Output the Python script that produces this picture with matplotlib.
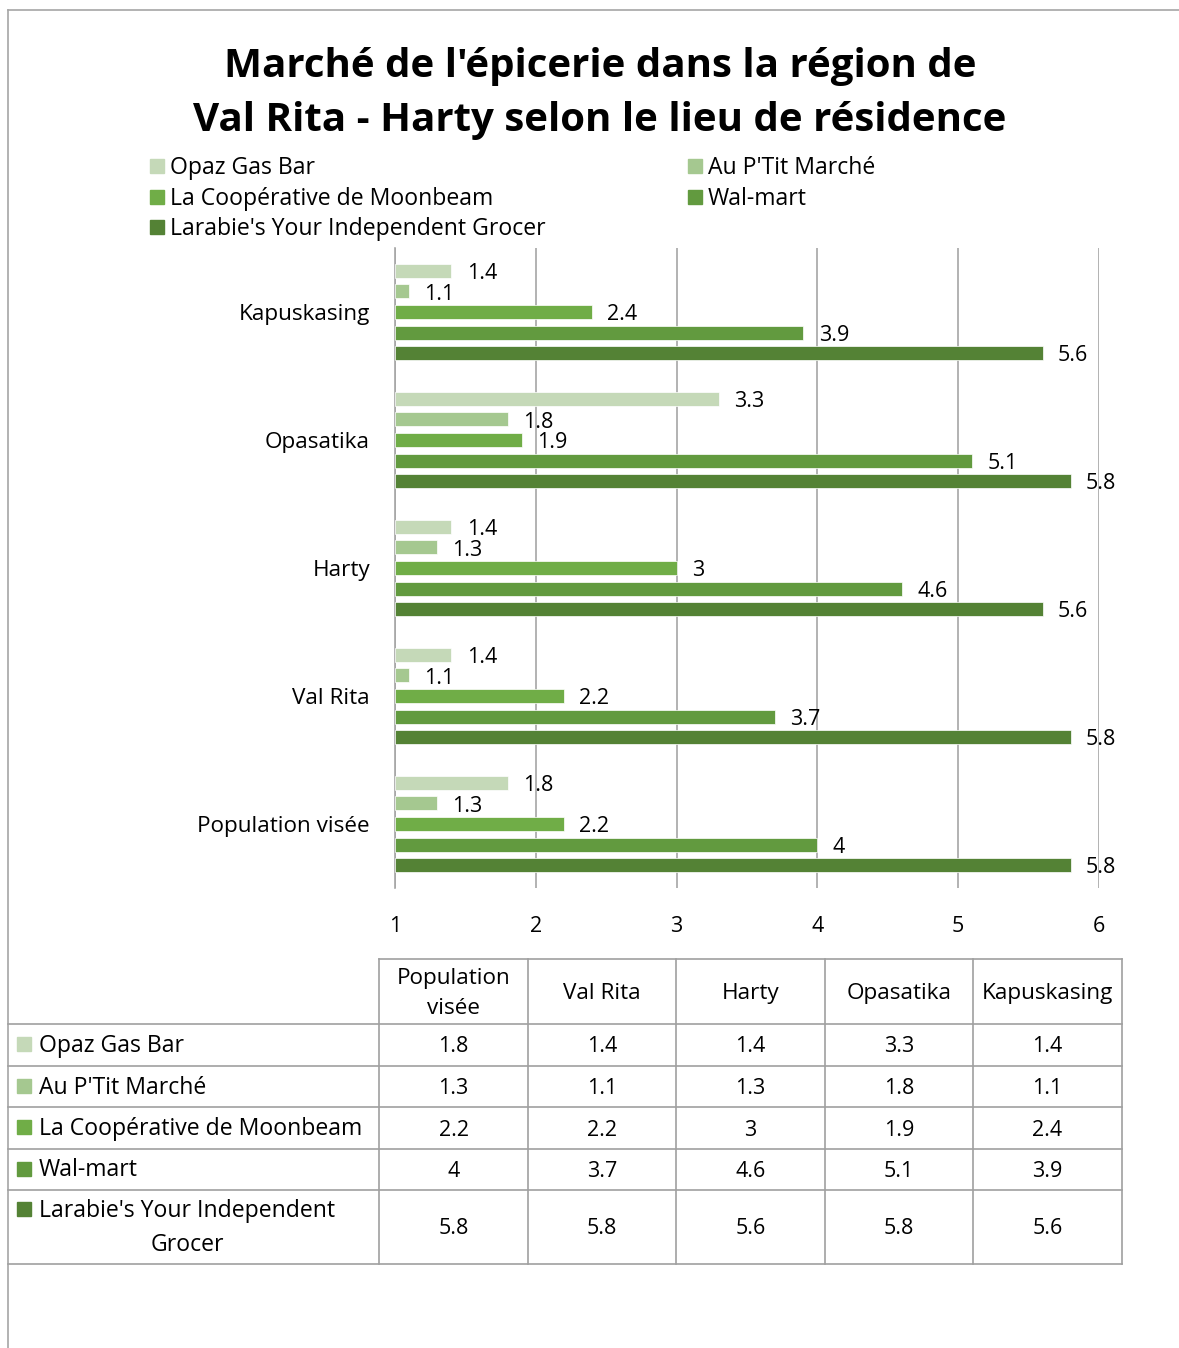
import matplotlib
matplotlib.use("Agg")
import matplotlib.pyplot as plt
import numpy as np

plt.rcParams['font.family'] = ['Open Sans', 'DejaVu Sans']

categories = ["Population visée", "Val Rita", "Harty", "Opasatika", "Kapuskasing"]
series_names = ["Opaz Gas Bar", "Au P'Tit Marché", "La Coopérative de Moonbeam",
                "Wal-mart", "Larabie's Your Independent Grocer"]
opaz = [1.8, 1.4, 1.4, 3.3, 1.4]
auptit = [1.3, 1.1, 1.3, 1.8, 1.1]
coop = [2.2, 2.2, 3, 1.9, 2.4]
walmart = [4, 3.7, 4.6, 5.1, 3.9]
larabie = [5.8, 5.8, 5.6, 5.8, 5.6]
values = [opaz, auptit, coop, walmart, larabie]
colors = ["#C5D9B8", "#A5C890", "#70AD47", "#629A3F", "#548235"]
xticks = [1, 2, 3, 4, 5, 6]
title = "Marché de l'épicerie dans la région de\nVal Rita - Harty selon le lieu de résidence"

W, H = 1179, 1348
fig = plt.figure(figsize=(W / 100, H / 100), dpi=100)

# overlay in pixel coords
ov = fig.add_axes([0, 0, 1, 1])
ov.set_xlim(0, W)
ov.set_ylim(H, 0)
ov.axis('off')

gray = "#A6A6A6"
# outer frame
ov.plot([8, W], [10, 10], color=gray, lw=1.2)
ov.plot([8, 8], [10, H], color=gray, lw=1.2)

ov.text(600, 93, title, ha='center', va='center', fontsize=29, fontweight='bold',
        linespacing=1.5)

# legend
leg_pos = [(150, 166), (688, 166), (150, 197), (688, 197), (150, 227)]
for (lx, ly), name, c in zip(leg_pos, series_names, colors):
    ov.add_patch(plt.Rectangle((lx, ly - 7), 14, 14, color=c))
    ov.text(lx + 20, ly + 2, name, ha='left', va='center', fontsize=16.6)

# main chart
L, R, T, B = 395, 1099, 248, 888
ax = fig.add_axes([L / W, (H - B) / H, (R - L) / W, (B - T) / H])
ax.set_xlim(1, 6)
ax.set_ylim(-0.5, 4.5)
y = np.arange(len(categories))
step = 20.6 / 128
bh = 14 / 128
for i, (vals, c) in enumerate(zip(values, colors)):
    yy = y + (2 - i) * step
    ax.barh(yy, np.array(vals) - 1, left=1, height=bh, color=c, edgecolor='white', linewidth=0.5, zorder=3)
    for yv, v in zip(yy, vals):
        ax.annotate(f"{v:g}", (v, yv), xytext=(11, -2), textcoords='offset points',
                    ha='left', va='center', fontsize=15.5, zorder=4)
ax.set_xticks(xticks)
ax.set_xticklabels([str(t) for t in xticks], fontsize=15.5)
ax.set_yticks(y)
ax.set_yticklabels(categories, fontsize=16.2)
ax.tick_params(axis='x', length=0, pad=20)
ax.tick_params(axis='y', length=0, pad=18)
for lbl in ax.get_yticklabels():
    lbl.set_y(lbl.get_position()[1])
ax.grid(axis='x', color=gray, lw=1.2, zorder=0)
for s in ['top', 'right', 'bottom']:
    ax.spines[s].set_visible(False)
ax.spines['left'].set_color(gray)
ax.spines['left'].set_linewidth(1.2)
ax.patch.set_alpha(0)

# data table
cols_x = [379, 528, 676, 825, 973, 1122]
rows_y = [959, 1024, 1066, 1107, 1149, 1190, 1264]
tc = "#A0A0A0"
ov.plot([cols_x[0], cols_x[-1]], [rows_y[0], rows_y[0]], color=tc, lw=1.2)
for ry in rows_y[1:]:
    ov.plot([8, cols_x[-1]], [ry, ry], color=tc, lw=1.2)
for cx in cols_x:
    ov.plot([cx, cx], [rows_y[0], rows_y[-1]], color=tc, lw=1.2)

hdr = ["Population\nvisée"] + categories[1:]
for j, h in enumerate(hdr):
    ov.text((cols_x[j] + cols_x[j + 1]) / 2, (rows_y[0] + rows_y[1]) / 2 + 2, h,
            ha='center', va='center', fontsize=16.2, linespacing=1.6)

row_labels = ["Opaz Gas Bar", "Au P'Tit Marché", "La Coopérative de Moonbeam",
              "Wal-mart", "Larabie's Your Independent\nGrocer"]
for i, (lab, c, vals) in enumerate(zip(row_labels, colors, values)):
    y0, y1 = rows_y[i + 1], rows_y[i + 2]
    yc = (y0 + y1) / 2
    if i < 4:
        ov.add_patch(plt.Rectangle((17, yc - 8), 14, 14, color=c))
        ov.text(39, yc + 1, lab, ha='left', va='center', fontsize=16.6)
    else:
        ov.add_patch(plt.Rectangle((17, 1210 - 8), 14, 14, color=c))
        ov.text(187, yc + 1, lab, ha='center', va='center', fontsize=16.6,
                multialignment='center', linespacing=1.6)
    for j, v in enumerate(vals):
        ov.text((cols_x[j] + cols_x[j + 1]) / 2, yc + 2, f"{v:g}", ha='center', va='center', fontsize=15.5)

fig.savefig("out.png", dpi=100)
